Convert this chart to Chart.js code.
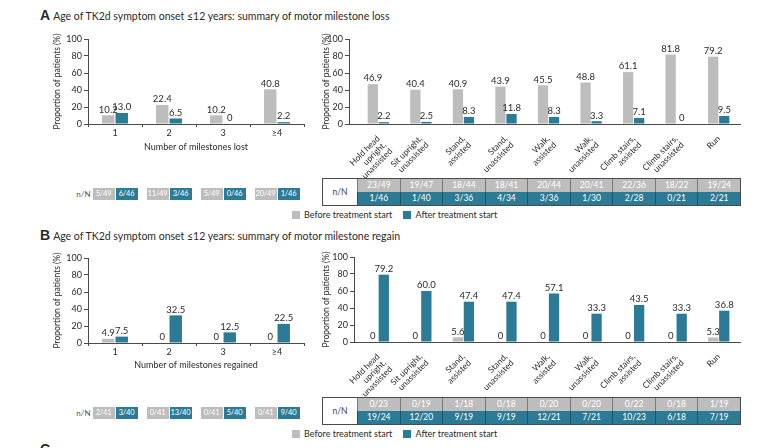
<!DOCTYPE html>
<html>
<head>
<meta charset="utf-8">
<script src="https://cdn.jsdelivr.net/npm/chart.js@4.4.1/dist/chart.umd.min.js"></script>
<style>
  html, body { margin: 0; padding: 0; background: #fff; }
  body { width: 772px; height: 448px; position: relative; overflow: hidden;
         font-family: Lato, "Open Sans", sans-serif; color: #2a2a2a; }
  canvas { position: absolute; }
  .ttl { position: absolute; font-size: 10.5px; white-space: nowrap; line-height: 14px; }
  .ttl b { font-family: "Liberation Sans", Arial, sans-serif; font-size: 14px; margin-right: 3px; }
  .cell { position: absolute; box-sizing: border-box; text-align: center; font-size: 8.5px;
          color: #fff; white-space: nowrap; }
  .mini { font-size: 7.5px; letter-spacing: -0.2px; }
  .g { background: #bdbdbd; }
  .t { background: #2b7b96; }
  .sep-g { border-left: 1px solid #7a7a7a; }
  .sep-t { border-left: 1px solid #1c5567; }
  .frame { position: absolute; box-sizing: border-box; border: 1.5px solid #4a4a4a; }
  .lab { position: absolute; font-size: 8px; color: #555; text-align: right; white-space: nowrap; }
  .legend { position: absolute; font-size: 9px; white-space: nowrap; line-height: 10px; }
  .legend i { display: inline-block; width: 8px; height: 8px; vertical-align: -1px; margin-right: 4px; }
</style>
</head>
<body>
<div class="ttl" style="left:40px;top:8px"><b>A</b>Age of TK2d symptom onset ≤12 years: summary of motor milestone loss</div>
<div class="ttl" style="left:40px;top:228px"><b>B</b>Age of TK2d symptom onset ≤12 years: summary of motor milestone regain</div>
<div class="ttl" style="left:40px;top:442px"><b>C</b></div>

<canvas id="lossCount"></canvas>
<canvas id="lossMile"></canvas>
<canvas id="regainCount"></canvas>
<canvas id="regainMile"></canvas>

<div class="legend" style="left:292px;top:210px"><i style="background:#bdbdbd"></i>Before treatment start <i style="background:#2b7b96;margin-left:9px"></i>After treatment start</div>
<div class="legend" style="left:292px;top:429px"><i style="background:#bdbdbd"></i>Before treatment start <i style="background:#2b7b96;margin-left:9px"></i>After treatment start</div>

<script>
var GRAY = '#bdbdbd', TEAL = '#2b7b96', INK = '#2a2a2a', AXIS = '#4a4a4a';

var countCats = ['1', '2', '3', '≥4'];
var milestoneCats = [
  ['Hold head', 'upright,', 'unassisted'], ['Sit upright,', 'unassisted'],
  ['Stand,', 'assisted'], ['Stand,', 'unassisted'], ['Walk,', 'assisted'],
  ['Walk,', 'unassisted'], ['Climb stairs,', 'assisted'], ['Climb stairs,', 'unassisted'], 'Run'
];

// A: milestone loss
var lossCountBefore = [10.2, 22.4, 10.2, 40.8];
var lossCountAfter = [13.0, 6.5, 0, 2.2];
var lossCountNBefore = ['5/49', '11/49', '5/49', '20/49'];
var lossCountNAfter = ['6/46', '3/46', '0/46', '1/46'];

var lossMileBefore = [46.9, 40.4, 40.9, 43.9, 45.5, 48.8, 61.1, 81.8, 79.2];
var lossMileAfter = [2.2, 2.5, 8.3, 11.8, 8.3, 3.3, 7.1, 0, 9.5];
var lossMileNBefore = ['23/49', '19/47', '18/44', '18/41', '20/44', '20/41', '22/36', '18/22', '19/24'];
var lossMileNAfter = ['1/46', '1/40', '3/36', '4/34', '3/36', '1/30', '2/28', '0/21', '2/21'];

// B: milestone regain
var regainCountBefore = [4.9, 0, 0, 0];
var regainCountAfter = [7.5, 32.5, 12.5, 22.5];
var regainCountNBefore = ['2/41', '0/41', '0/41', '0/41'];
var regainCountNAfter = ['3/40', '13/40', '5/40', '9/40'];

var regainMileBefore = [0, 0, 5.6, 0, 0, 0, 0, 0, 5.3];
var regainMileAfter = [79.2, 60.0, 47.4, 47.4, 57.1, 33.3, 43.5, 33.3, 36.8];
var regainMileNBefore = ['0/23', '0/19', '1/18', '0/18', '0/20', '0/20', '0/22', '0/18', '1/19'];
var regainMileNAfter = ['19/24', '12/20', '9/19', '9/19', '12/21', '7/21', '10/23', '6/18', '7/19'];

var yTicks = [0, 20, 40, 60, 80, 100];

Chart.defaults.font.family = 'Lato, "Open Sans", sans-serif';
Chart.defaults.color = INK;

function fmt(v) { return v === 0 ? '0' : v.toFixed(1); }

// value above each bar
var valueLabels = {
  id: 'valueLabels',
  afterDatasetsDraw: function(chart) {
    var ctx = chart.ctx;
    ctx.save();
    ctx.font = '9.5px Lato, "Open Sans", sans-serif';
    ctx.fillStyle = INK;
    ctx.textAlign = 'center';
    ctx.textBaseline = 'bottom';
    chart.data.datasets.forEach(function(ds, di) {
      chart.getDatasetMeta(di).data.forEach(function(bar, i) {
        var v = ds.data[i];
        if (typeof v === 'object') v = v.y;
        ctx.fillText(fmt(v), bar.x, bar.y - 1);
      });
    });
    ctx.restore();
  }
};

function yScale(w, titlePad) {
  return {
    min: 0, max: 100,
    afterBuildTicks: function(s) { s.ticks = yTicks.map(function(v) { return { value: v }; }); },
    ticks: { font: { size: 9 }, padding: 2, color: INK },
    grid: { display: true, drawOnChartArea: false, drawTicks: true, tickLength: 4, color: AXIS },
    border: { color: AXIS, width: 1 },
    title: { display: true, text: 'Proportion of patients (%)', font: { size: 8.5 }, color: INK,
             padding: { top: titlePad, bottom: 0 } },
    afterFit: function(s) { s.width = w; }
  };
}

function place(id, box) {
  var cv = document.getElementById(id);
  cv.width = box.w; cv.height = box.h;
  cv.style.left = box.x + 'px'; cv.style.top = box.y + 'px';
  cv.style.width = box.w + 'px'; cv.style.height = box.h + 'px';
  return cv;
}

function countChart(id, box, geo, before, after, xTitle) {
  var cv = place(id, box);
  return new Chart(cv, {
    type: 'bar',
    data: {
      labels: countCats,
      datasets: [
        { label: 'Before treatment start', data: before, backgroundColor: GRAY },
        { label: 'After treatment start', data: after, backgroundColor: TEAL }
      ]
    },
    options: {
      responsive: false, animation: false, devicePixelRatio: 1,
      layout: { padding: { top: geo.padTop, right: geo.padRight, left: 0, bottom: 0 } },
      plugins: { legend: { display: false }, tooltip: { enabled: false } },
      datasets: { bar: { barPercentage: 0.92, categoryPercentage: 0.5 } },
      scales: {
        x: {
          type: 'category', offset: true,
          grid: { display: true, offset: true, drawOnChartArea: false, drawTicks: true, tickLength: 3, color: AXIS },
          border: { color: AXIS, width: 1 },
          ticks: { font: { size: 9 }, padding: 1, maxRotation: 0, color: INK },
          title: { display: true, text: xTitle, font: { size: 9 }, color: INK, padding: { top: 0, bottom: 8 } },
          afterFit: function(s) { s.height = geo.xH; }
        },
        y: yScale(geo.yW, 8)
      }
    },
    plugins: [valueLabels]
  });
}

function mileChart(id, box, geo, before, after) {
  var cv = place(id, box);
  var pts = function(arr) { return arr.map(function(v, i) { return { x: i, y: v }; }); };
  return new Chart(cv, {
    type: 'bar',
    data: {
      datasets: [
        { label: 'Before treatment start', data: pts(before), backgroundColor: GRAY },
        { label: 'After treatment start', data: pts(after), backgroundColor: TEAL }
      ]
    },
    options: {
      responsive: false, animation: false, devicePixelRatio: 1,
      layout: { padding: { top: geo.padTop, right: geo.padRight, left: 0, bottom: 0 } },
      plugins: { legend: { display: false }, tooltip: { enabled: false } },
      datasets: { bar: { barPercentage: 0.93, categoryPercentage: 0.52 } },
      scales: {
        x: {
          type: 'linear', offset: false, min: geo.xMin, max: milestoneCats.length - 0.5,
          afterBuildTicks: function(s) { s.ticks = milestoneCats.map(function(c, i) { return { value: i }; }); },
          grid: { display: false },
          border: { color: AXIS, width: 1 },
          ticks: {
            autoSkip: false, minRotation: 45, maxRotation: 45, padding: 2,
            font: { size: 8.5, lineHeight: 1.05 }, color: INK,
            callback: function(v) { return milestoneCats[v]; }
          },
          afterFit: function(s) { s.height = geo.xH; }
        },
        y: yScale(geo.yW, 3)
      }
    },
    plugins: [valueLabels]
  });
}

function addDiv(cls, left, top, w, h, text) {
  var d = document.createElement('div');
  d.className = cls;
  d.style.left = left + 'px'; d.style.top = top + 'px';
  d.style.width = w + 'px'; d.style.height = h + 'px';
  d.style.lineHeight = h + 'px';
  d.textContent = text || '';
  document.body.appendChild(d);
  return d;
}

// small n/N boxes under the count charts
function miniTable(chart, box, top, before, after) {
  var xs = chart.scales.x;
  var firstLeft = 0;
  before.forEach(function(t, i) {
    var c = box.x + xs.getPixelForValue(i);
    if (i === 0) firstLeft = c - 22.5;
    addDiv('cell mini g', c - 22.5, top, 22, 12, t);
    addDiv('cell mini t', c + 0.5, top, 22, 12, after[i]);
  });
  addDiv('lab', firstLeft - 30, top, 28, 12, 'n/N');
}

// framed n/N table under the milestone charts
function nnTable(chart, box, top, before, after) {
  var xs = chart.scales.x;
  var colW = xs.getPixelForValue(1) - xs.getPixelForValue(0);
  var first = box.x + xs.getPixelForValue(0) - colW / 2;
  var labW = 34, rowH = 13;
  addDiv('cell', first - labW, top, labW, rowH * 2, 'n/N').style.color = '#444';
  before.forEach(function(t, i) {
    var l = first + i * colW;
    addDiv('cell g sep-g', l, top, colW, rowH, t);
    addDiv('cell t sep-t', l, top + rowH, colW, rowH, after[i]);
  });
  addDiv('frame', first - labW - 1, top - 1, labW + colW * before.length + 2, rowH * 2 + 2);
}

var boxLossCount = { x: 44, y: 30, w: 268, h: 130 };
var boxLossMile = { x: 318, y: 30, w: 430, h: 148 };
var boxRegainCount = { x: 44, y: 249, w: 268, h: 129 };
var boxRegainMile = { x: 318, y: 248, w: 430, h: 149 };

var cLossCount = countChart('lossCount', boxLossCount, { padTop: 9, padRight: 8, yW: 44, xH: 36 },
  lossCountBefore, lossCountAfter, 'Number of milestones lost');
var cLossMile = mileChart('lossMile', boxLossMile, { padTop: 9, padRight: 8, yW: 31, xH: 54, xMin: -0.69 },
  lossMileBefore, lossMileAfter);
var cRegainCount = countChart('regainCount', boxRegainCount, { padTop: 9, padRight: 8, yW: 44, xH: 35 },
  regainCountBefore, regainCountAfter, 'Number of milestones regained');
var cRegainMile = mileChart('regainMile', boxRegainMile, { padTop: 9, padRight: 8, yW: 36, xH: 55, xMin: -0.57 },
  regainMileBefore, regainMileAfter);

miniTable(cLossCount, boxLossCount, 188, lossCountNBefore, lossCountNAfter);
nnTable(cLossMile, boxLossMile, 179, lossMileNBefore, lossMileNAfter);
miniTable(cRegainCount, boxRegainCount, 407, regainCountNBefore, regainCountNAfter);
nnTable(cRegainMile, boxRegainMile, 398, regainMileNBefore, regainMileNAfter);
</script>
</body>
</html>
